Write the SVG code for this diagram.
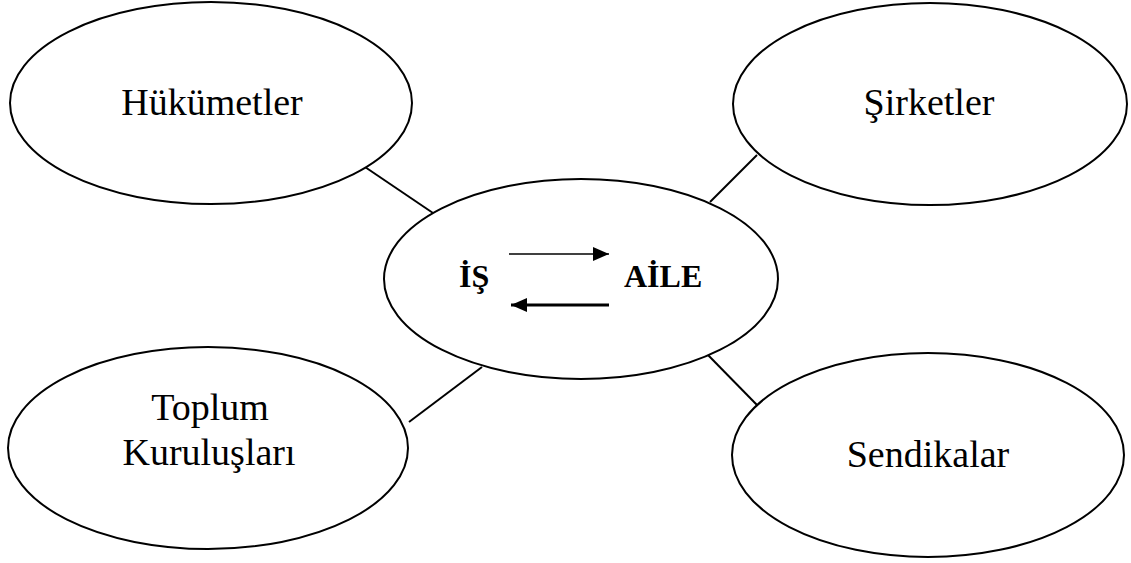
<svg xmlns="http://www.w3.org/2000/svg" width="1131" height="563" viewBox="0 0 1131 563">
  <style>
    .node { fill: #fff; stroke: #000; stroke-width: 2; }
    .label { font-family: "Liberation Serif", "Times New Roman", serif; font-size: 38px; fill: #000; text-anchor: middle; }
    .core { font-family: "Liberation Serif", "Times New Roman", serif; font-size: 32px; font-weight: bold; fill: #000; }
    .link { stroke: #000; stroke-width: 2; fill: none; }
  </style>
  <defs>
    <marker id="head" viewBox="0 0 16 14" refX="16" refY="7" markerWidth="16" markerHeight="14" markerUnits="userSpaceOnUse" orient="auto">
      <path d="M0,0 L16,7 L0,14 Z" fill="#000"/>
    </marker>
  </defs>
  <rect width="1131" height="563" fill="#fff"/>

  <!-- connectors from the centre to each outer ellipse -->
  <g id="connectors">
    <line class="link" x1="365" y1="167" x2="433" y2="213"/>
    <line class="link" x1="757" y1="155" x2="710" y2="202"/>
    <line class="link" x1="409" y1="422" x2="482" y2="367"/>
    <line class="link" x1="708" y1="355" x2="757" y2="405"/>
  </g>

  <g id="hukumetler">
    <ellipse class="node" cx="211" cy="103" rx="201" ry="101"/>
    <text class="label" x="212" y="115">Hükümetler</text>
  </g>

  <g id="sirketler">
    <ellipse class="node" cx="930" cy="104" rx="197" ry="101"/>
    <text class="label" x="929" y="115">Şirketler</text>
  </g>

  <g id="toplum-kuruluslari">
    <ellipse class="node" cx="208" cy="448" rx="200" ry="101"/>
    <text class="label" x="210" y="420">Toplum</text>
    <text class="label" x="209" y="465">Kuruluşları</text>
  </g>

  <g id="sendikalar">
    <ellipse class="node" cx="928" cy="455" rx="196" ry="102"/>
    <text class="label" x="928" y="467">Sendikalar</text>
  </g>

  <g id="is-aile">
    <ellipse class="node" cx="581" cy="279" rx="197" ry="100"/>
    <text class="core" x="459" y="287">İŞ</text>
    <text class="core" x="624" y="287">AİLE</text>
    <line x1="509" y1="254" x2="609" y2="254" stroke="#000" stroke-width="1.5" marker-end="url(#head)"/>
    <line x1="609" y1="305" x2="511" y2="305" stroke="#000" stroke-width="3" marker-end="url(#head)"/>
  </g>
</svg>
